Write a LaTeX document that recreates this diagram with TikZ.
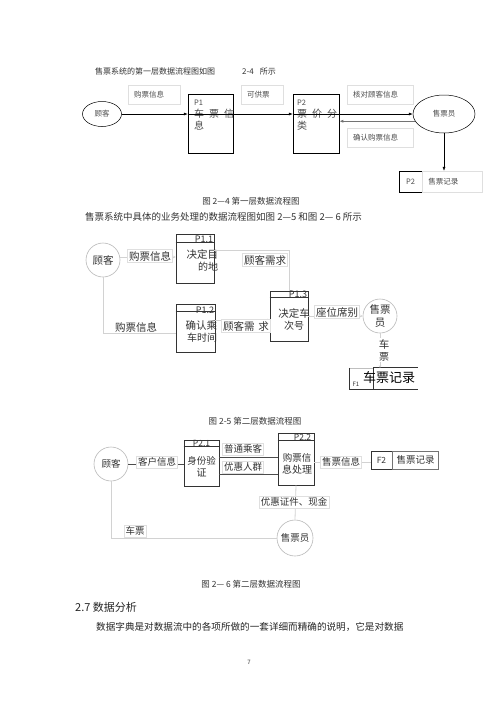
\documentclass[tikz,border=0pt]{standalone}
\usepackage{fontspec}
\setmainfont{Noto Sans CJK SC}
\usetikzlibrary{positioning,arrows.meta,shapes.geometric}
\newcommand{\txtsz}[2]{\fontsize{#1}{#2}\selectfont}
\tikzset{
  ent1/.style={ellipse, draw, line width=0.5pt, text=black!70},
  ent/.style={circle, draw=gray!55, line width=0.6pt, minimum size=34pt, text=black!80},
  proc1/.style={draw, line width=0.5pt},
  proc/.style={draw=black!80, line width=0.7pt},
  lbl1/.style={draw=gray!25, inner sep=6pt, minimum height=19pt, align=left, text=black!70},
  lbl/.style={draw=gray!25, fill=white, inner sep=1.5pt, text=black!80},
  flow1/.style={-{Latex[length=4pt,width=3pt]}, line width=0.5pt},
  flow/.style={draw=gray!35, line width=0.8pt},
  flowd/.style={draw=black!70, line width=0.6pt},
  tip/.style={-{Stealth[length=2.5pt,width=2.5pt]}}
}
\begin{document}
\begin{tikzpicture}[x=1pt,y=-1pt, every node/.style={inner sep=0pt}]
\useasboundingbox[fill=white] (0,0) rectangle (500,707);

%% first level data flow
\node[anchor=west, text=black!80] (ttl1) at (95,71) {\txtsz{8}{10}售票系统的第一层数据流程图如图\hspace{27pt}2-4\hspace{6pt}所示};
\node[ent1, minimum width=39pt, minimum height=25pt] (gk1) at (102,114) {\txtsz{7.5}{9}顾客};
\node[proc1, minimum width=45pt, minimum height=59pt] (p1) at (210.5,123.5) {};
\node[proc1, minimum width=46pt, minimum height=59pt] (p2) at (316,123.5) {};
\node[ent1, minimum width=62pt, minimum height=38pt] (sy1) at (444,114) {\txtsz{7.5}{9}售票员};
\node[anchor=north west, align=left, text=black!70] (p1t) at (194,100)
  {\txtsz{7.5}{13}P1\\车\hspace{5pt}票\hspace{5pt}信\\息};
\node[anchor=north west, align=left, text=black!70] (p2t) at (297,100)
  {\txtsz{7.5}{13}P2\\票\hspace{5pt}价\hspace{5pt}分\\类};
% labels above and below the flows
\node[lbl1, text width=40pt] (l11) at (154,94.5) {\txtsz{7.5}{9}购票信息};
\node[lbl1, text width=30pt] (l12) at (262,94.5) {\txtsz{7.5}{9}可供票};
\node[lbl1, text width=54pt] (l13) at (380,95) {\txtsz{7.5}{9}核对顾客信息};
\node[lbl1, text width=54pt] (l14) at (380,137.5) {\txtsz{7.5}{9}确认购票信息};
% data store
\node[proc1, minimum width=23pt, minimum height=21pt, text=black!70] (f2a) at (410.5,181.5) {\txtsz{7.5}{9}P2};
\node[lbl1, text width=48pt, minimum height=21pt, right=0pt of f2a] (f2b) {\txtsz{7.5}{9}售票记录};
\coordinate (c1) at (gk1.east -| p1.west);
\coordinate (c2) at (gk1.east -| p2.west);
\draw[flow1] (gk1.east) -- (c1);
\draw[flow1] (c1) -- (c2);
\draw[flow1] (c2) -- (sy1.west);
\draw[flow1, draw=black!55, line width=1.3pt] (sy1.194) -- (sy1.194 -| p2.east);
\draw[flow1] (sy1.south) -- (sy1.south |- f2b.north);
\node[text=black!80] (cap1) at (251,201) {\txtsz{8.5}{10}图 2—4 第一层数据流程图};

%% second level, part one
\node[anchor=west, text=black!80] (ttl2) at (85,217) {\txtsz{9.5}{11}售票系统中具体的业务处理的数据流程图如图 2—5 和图 2— 6 所示};
\node[ent] (gk2) at (103,260) {\txtsz{10.5}{12}顾客};
\node[proc, minimum width=38pt, minimum height=49pt] (p11) at (195,258.5) {};
\node[proc, minimum width=39pt, minimum height=48pt] (p12) at (195.5,328) {};
\node[proc, minimum width=38pt, minimum height=50pt] (p13) at (289,316) {};
\node[ent] (sy2) at (380,316) {\txtsz{10.5}{14}\shortstack{售票\\员}};
\draw[proc] (p11.north west) ++(0,9) -- ++(38,0);
\draw[proc] (p12.north west) ++(0,8) -- ++(39,0);
\draw[proc] (p13.north west) ++(0,7) -- ++(38,0);
\node[anchor=south east, text=black!80] (p11h) at ([xshift=-1pt,yshift=-9pt]p11.north east) {\txtsz{9}{9}P1.1};
\node[anchor=south east, text=black!80] (p12h) at ([xshift=-1pt,yshift=-10pt]p12.north east) {\txtsz{9}{9}P1.2};
\node[anchor=south east, text=black!80] (p13h) at ([xshift=-1pt,yshift=-7pt]p13.north east) {\txtsz{9}{9}P1.3};
\node[anchor=north east, align=right, text=black!80] (p11t) at ([xshift=4pt,yshift=-16pt]p11.north east) {\txtsz{10.5}{14}决定目\\的地};
\node[anchor=north east, align=right, text=black!80] (p12t) at ([xshift=2pt,yshift=-17pt]p12.north east) {\txtsz{10.5}{13}确认乘\\车时间};
\node[align=center, text=black!80] (p13t) at (294,319) {\txtsz{10.5}{15}决定车\\次号};
% store F1
\node[minimum width=24pt, minimum height=21pt] (f1a) at (361,378.5) {};
\node[minimum width=44pt, minimum height=21pt, right=0pt of f1a] (f1b) {};
\draw[gray!50] (f1a.north west) -- (f1a.north east);
\draw[black!80, line width=0.6pt] (f1a.north west) -- (f1a.south west) -- (f1b.south east);
\draw[black!80, line width=0.8pt] (f1b.south west) -- (f1b.north west) -- (f1b.north east);
\node[text=black!80] (f1t1) at (356,384) {\txtsz{6}{6}F1};
\node[text=black] (f1t2) at (389,378) {\txtsz{13}{13}车票记录};
% flows
\draw[flow, tip] (gk2.10) -- (gk2.10 -| p11.west);
\draw[flow] ([yshift=8.5pt]p11.east) -| (p13.north);
\draw[flow] (gk2.south) |- ([yshift=-5pt]p12.west);
\draw[flow, tip] ([yshift=8pt]p12.east) -- ([yshift=8pt]p12.east -| p13.west);
\draw[flow, tip] (p13.east) -- (sy2.west);
\draw[flow, tip] (sy2.south) -- (sy2.south |- f1b.north);
\node[lbl] (l21) at (150,256) {\txtsz{10.5}{12}购票信息};
\node[lbl] (l22) at (265,260) {\txtsz{10.5}{12}顾客需求};
\node[lbl, draw=none, fill=none] (l23) at (136,327) {\txtsz{10.5}{12}购票信息};
\node[lbl] (l24) at (246,326) {\txtsz{10.5}{12}顾客需\hspace{4pt}求};
\node[lbl] (l25) at (337,312) {\txtsz{10.5}{12}座位席别};
\node[lbl, draw=none, align=center] (l26) at (384,350) {\txtsz{10.5}{16}车\\票};
\node[text=black!80] (cap2) at (255,421) {\txtsz{8.5}{10}图 2-5 第二层数据流程图};

%% second level, part two
\node[ent] (gk3) at (111,464) {\txtsz{9.5}{11}顾客};
\node[proc, minimum width=35pt, minimum height=46pt] (p21) at (201.5,463) {};
\node[proc, minimum width=36pt, minimum height=52pt] (p22) at (296,459) {};
\node[ent, minimum size=36pt] (sy3) at (295,538) {\txtsz{9.5}{11}售票员};
\draw[proc] (p21.north west) ++(0,7) -- ++(35,0);
\draw[proc] (p22.north west) ++(0,8) -- ++(36,0);
\node[anchor=south, text=black!80] (p21h) at ([yshift=-7pt]p21.north) {\txtsz{8.5}{9}P2.1};
\node[anchor=south east, text=black!80] (p22h) at ([xshift=-3pt,yshift=-8pt]p22.north east) {\txtsz{8.5}{9}P2.2};
\node[align=center, text=black!80] (p21t) at (201.5,467) {\txtsz{9.5}{11}身份验\\证};
\node[align=center, text=black!80] (p22t) at (297,464) {\txtsz{9.5}{14}购票信\\息处理};
% store F2
\node[proc, minimum width=21pt, minimum height=18pt, text=black!80] (f2c) at (381.5,460) {\txtsz{8.5}{9}F2};
\node[draw=black!55, line width=0.6pt, minimum width=46pt, minimum height=18pt, right=0pt of f2c, text=black!80] (f2d) {\txtsz{9.5}{11}售票记录};
% flows
\draw[flowd] (gk3.east) -- (gk3.east -| p21.west);
\draw[flowd] ([yshift=6pt]p21.east) -- ([yshift=6pt]p21.east -| p22.west);
\draw[flowd] ([yshift=-11pt]p21.east) -- ([yshift=-11pt]p21.east -| p22.west);
\draw[flow] ([yshift=-3pt]p22.east) -- ([yshift=-3pt]p22.east -| f2c.west);
\draw[flow] (p22.south) -- (sy3.north);
\draw[flow] (gk3.south) |- (sy3.west);
\node[lbl] (l31) at (157,462) {\txtsz{9.5}{11}客户信息};
\node[lbl] (l32) at (243,449) {\txtsz{9.5}{11}普通乘客};
\node[lbl] (l33) at (243,467) {\txtsz{9.5}{11}优惠人群};
\node[lbl] (l34) at (341,462) {\txtsz{9.5}{11}售票信息};
\node[lbl] (l35) at (294,502) {\txtsz{9.5}{11}优惠证件、现金};
\node[lbl] (l36) at (135,531) {\txtsz{9.5}{11}车票};
\node[text=black!80] (cap3) at (251,584) {\txtsz{8.5}{10}图 2— 6 第二层数据流程图};

%% text below
\node[anchor=west, text=black!85] (h27) at (75,607) {\txtsz{11}{13}2.7 数据分析};
\node[anchor=west, text=black!85] (para) at (96,627) {\txtsz{9.6}{11}数据字典是对数据流中的各项所做的一套详细而精确的说明，它是对数据};
\node[text=black!80] (pg) at (249,662) {\txtsz{6}{7}7};
\end{tikzpicture}
\end{document}
